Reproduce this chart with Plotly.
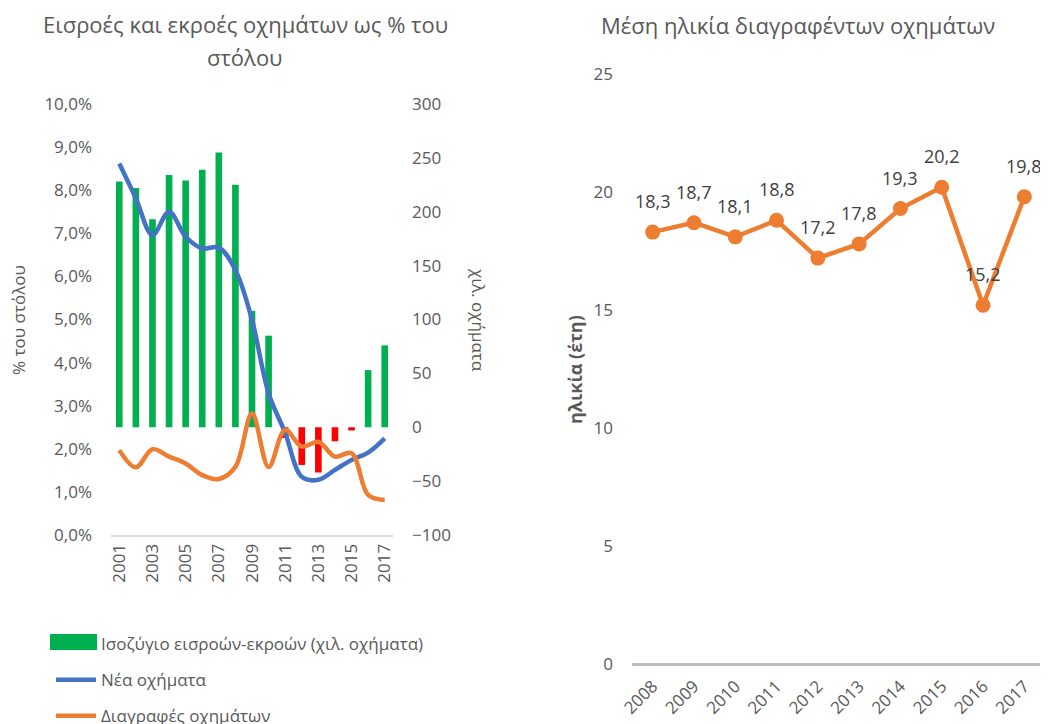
import plotly.graph_objects as go

# ---------------- data ----------------
years_left = list(range(2001, 2018))
balance_k = [228, 222, 193, 234, 229, 239, 255, 225, 108, 85, -10, -35, -42, -13, -3, 53, 76]
new_pct = [0.0862, 0.0781, 0.0696, 0.0750, 0.0692, 0.0665, 0.0667, 0.0615, 0.0499, 0.0329,
           0.0237, 0.0135, 0.0128, 0.0151, 0.0174, 0.0191, 0.0224]
scrap_pct = [0.0197, 0.0157, 0.0199, 0.0182, 0.0166, 0.0139, 0.0130, 0.0158, 0.0282, 0.0158,
             0.0244, 0.0205, 0.0216, 0.0182, 0.0190, 0.0093, 0.0081]

years_right = [2008, 2009, 2010, 2011, 2012, 2013, 2014, 2015, 2016, 2017]
avg_age = [18.3, 18.7, 18.1, 18.8, 17.2, 17.8, 19.3, 20.2, 15.2, 19.8]

left_ticks_pct = [0.0, 0.01, 0.02, 0.03, 0.04, 0.05, 0.06, 0.07, 0.08, 0.09, 0.10]
right_ticks_k = [-100, -50, 0, 50, 100, 150, 200, 250, 300]
x_tick_years = [2001, 2003, 2005, 2007, 2009, 2011, 2013, 2015, 2017]
age_ticks = [0, 5, 10, 15, 20, 25]

# ---------------- styles ----------------
FONT = "Open Sans"
GREY = "#595959"
GREEN = "#00B050"
RED = "#FF0000"
BLUE = "#4472C4"
ORANGE = "#ED7D31"

OFF = 8            # page body margin
W, H = 1040, 716   # figure size so that it fits the 1048x724 window


def px_x(p):
    return (p - OFF) / W


def px_y(p):
    return 1 - (p - OFF) / H


fig = go.Figure()

bar_colors = [GREEN if v >= 0 else RED for v in balance_k]
fig.add_trace(go.Bar(
    x=years_left, y=balance_k, width=0.4,
    marker=dict(color=bar_colors, line=dict(width=0)),
    name="Ισοζύγιο εισροών-εκροών (χιλ. οχήματα)",
    xaxis="x", yaxis="y", legendgroup="a",
))
fig.add_trace(go.Scatter(
    x=years_left, y=new_pct, mode="lines",
    line=dict(color=BLUE, width=4.5, shape="spline", smoothing=1),
    name="Νέα οχήματα", xaxis="x", yaxis="y2", legendgroup="b",
))
fig.add_trace(go.Scatter(
    x=years_left, y=scrap_pct, mode="lines",
    line=dict(color=ORANGE, width=4.5, shape="spline", smoothing=1),
    name="Διαγραφές οχημάτων", xaxis="x", yaxis="y2", legendgroup="c",
))
fig.add_trace(go.Scatter(
    x=years_right, y=avg_age, mode="lines+markers",
    line=dict(color=ORANGE, width=4.5),
    marker=dict(color=ORANGE, size=15),
    showlegend=False, xaxis="x3", yaxis="y3",
))

annotations = []
for yr, v in zip(years_right, avg_age):
    annotations.append(dict(
        x=yr, y=v, xref="x3", yref="y3", text=f"{v:.1f}".replace(".", ","),
        showarrow=False, yshift=31, xanchor="center", yanchor="middle",
        font=dict(family=FONT, size=18, color="#404040"),
    ))


def paper_note(x, y, text, size, angle=0):
    return dict(x=px_x(x), y=px_y(y), xref="paper", yref="paper", showarrow=False,
                xanchor="center", yanchor="middle", text=text, textangle=angle,
                align="center", font=dict(family=FONT, size=size, color=GREY))


annotations += [
    paper_note(245, 24, "Εισροές και εκροές οχημάτων ως % του", 22),
    paper_note(245, 57, "στόλου", 22),
    paper_note(798, 25, "Μέση ηλικία διαγραφέντων οχημάτων", 22),
    paper_note(18, 320, "% του στόλου", 17, -90),
    paper_note(479, 320, "χιλ. οχήματα", 17, 90),
    paper_note(575, 370, "<b>ηλικία (έτη)</b>", 18, -90),
]

# wide legend key for the bar series (legend decoration)
shapes = [dict(type="rect", xref="paper", yref="paper",
               x0=px_x(50), x1=px_x(97), y0=px_y(650), y1=px_y(634),
               fillcolor=GREEN, line=dict(width=0), layer="above")]

tickfont = dict(family=FONT, size=17, color=GREY)

fig.update_layout(
    width=W, height=H,
    margin=dict(l=0, r=0, t=0, b=0, autoexpand=False),
    paper_bgcolor="white", plot_bgcolor="white",
    separators=",.",
    font=dict(family=FONT, color=GREY),
    barmode="overlay",
    showlegend=True,
    legend=dict(x=px_x(51), y=px_y(626), xanchor="left", yanchor="top",
                font=dict(family=FONT, size=17, color=GREY),
                tracegroupgap=11, itemwidth=40, bgcolor="rgba(0,0,0,0)"),
    xaxis=dict(domain=[px_x(111), px_x(393)], range=[2000.5, 2017.5],
               tickvals=x_tick_years, ticktext=[str(v) for v in x_tick_years],
               tickangle=-90, tickfont=tickfont, showgrid=False, zeroline=False,
               showline=True, linecolor="#D9D9D9", linewidth=2, ticks="",
               anchor="y", automargin=False),
    yaxis=dict(domain=[px_y(535), px_y(104)], range=[-100, 300], side="right",
               tickvals=right_ticks_k, tickfont=tickfont, showgrid=False,
               zeroline=False, showline=False, ticks="", ticklabelstandoff=18,
               anchor="x", automargin=False),
    yaxis2=dict(overlaying="y", side="left", range=[0, 0.10],
                tickvals=left_ticks_pct, tickformat=".1%", tickfont=tickfont,
                showgrid=False, zeroline=False, showline=False, ticks="",
                ticklabelstandoff=18, anchor="x", automargin=False),
    xaxis3=dict(domain=[px_x(632), px_x(1045)], range=[2007.5, 2017.5],
                tickvals=years_right, ticktext=[str(v) for v in years_right],
                tickangle=-45, tickfont=tickfont, showgrid=False, zeroline=False,
                showline=False, ticks="", ticklabelstandoff=8,
                anchor="y3", automargin=False),
    yaxis3=dict(domain=[px_y(664), px_y(74)], range=[0, 25],
                tickvals=age_ticks, tickfont=tickfont, showgrid=False,
                zeroline=True, zerolinecolor="#BFBFBF", zerolinewidth=3,
                showline=False, ticks="", ticklabelstandoff=18, anchor="x3",
                automargin=False),
    annotations=annotations,
    shapes=shapes,
)

fig.write_html("out.html")
